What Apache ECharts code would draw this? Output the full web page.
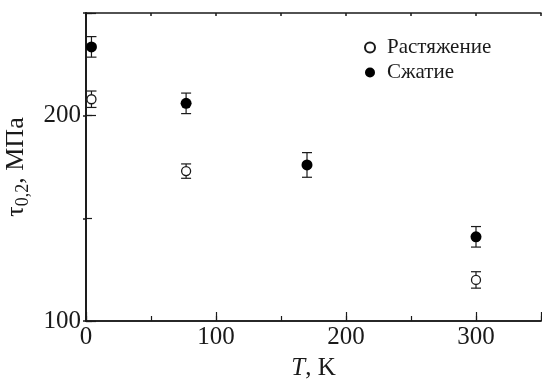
<!DOCTYPE html>
<html>
<head>
<meta charset="utf-8">
<script src="https://cdn.jsdelivr.net/npm/echarts@6/dist/echarts.min.js"></script>
<style>
  html, body { margin: 0; padding: 0; background: #fff; }
  #chart { width: 542px; height: 381px; }
</style>
</head>
<body>
<div id="chart"></div>
<script>
// температуры испытаний, K
const tensionT = [4.2, 77, 300];
const tensionVal = [208, 173, 120];
const tensionErr = [4, 3.5, 4];

const compT = [4.2, 77, 170, 300];
const compVal = [233.5, 206, 176, 141];
const compErr = [5, 5, 6, 5];

const xLabels = [0, 100, 200, 300];
const yLabels = [100, 200];

const ink = '#1a1a1a';
const font = '"Liberation Serif", "Times New Roman", serif';

function errData(xs, ys, es) {
    return xs.map((x, i) => [x, ys[i], es[i]]);
}

function errBar(params, api) {
    const x = api.value(0), y = api.value(1), e = api.value(2);
    const lo = api.coord([x, y - e]);
    const hi = api.coord([x, y + e]);
    const w = 5;
    const st = { stroke: ink, lineWidth: 1.2 };
    return {
        type: 'group',
        children: [
            { type: 'line', shape: { x1: lo[0], y1: lo[1], x2: hi[0], y2: hi[1] }, style: st },
            { type: 'line', shape: { x1: lo[0] - w, y1: lo[1], x2: lo[0] + w, y2: lo[1] }, style: st },
            { type: 'line', shape: { x1: hi[0] - w, y1: hi[1], x2: hi[0] + w, y2: hi[1] }, style: st }
        ]
    };
}

const myChart = echarts.init(document.getElementById('chart'));

const axisLine = { show: true, lineStyle: { color: ink, width: 1.5 } };
const xBase = { type: 'value', min: 0, max: 350, splitLine: { show: false } };
const yBase = { type: 'value', min: 100, max: 250, splitLine: { show: false } };

myChart.setOption({
    animation: false,
    backgroundColor: '#fff',
    grid: { left: 86, right: 1, top: 13, bottom: 60, containLabel: false, outerBoundsMode: 'none' },
    legend: {
        orient: 'vertical',
        left: 359,
        top: 32,
        itemWidth: 24,
        itemHeight: 10,
        itemGap: 4,
        data: ['Растяжение', 'Сжатие'],
        textStyle: { fontFamily: font, fontSize: 21, color: ink }
    },
    xAxis: [
        // малые деления
        Object.assign({}, xBase, {
            position: 'bottom', interval: 50,
            axisLine: axisLine,
            axisTick: { inside: true, length: 5, lineStyle: { color: ink, width: 1.2 } },
            axisLabel: { show: false }
        }),
        // большие деления с подписями
        Object.assign({}, xBase, {
            position: 'bottom', interval: 100,
            axisLine: axisLine,
            axisTick: { inside: true, length: 9, lineStyle: { color: ink, width: 1.2 } },
            axisLabel: {
                margin: 4, fontFamily: font, fontSize: 25, color: ink,
                formatter: v => xLabels.includes(v) ? String(v) : ''
            },
            name: '{i|T}, K',
            nameLocation: 'middle',
            nameGap: 35,
            nameTextStyle: {
                fontFamily: font, fontSize: 25, color: ink,
                rich: { i: { fontFamily: font, fontSize: 25, fontStyle: 'italic', color: ink } }
            }
        }),
        Object.assign({}, xBase, {
            position: 'top', interval: 50,
            axisLine: axisLine,
            axisTick: { inside: true, length: 3, lineStyle: { color: ink, width: 1.5 } },
            axisLabel: { show: false }
        })
    ],
    yAxis: [
        Object.assign({}, yBase, {
            position: 'left', interval: 50,
            axisLine: axisLine,
            axisTick: { inside: true, length: 6, lineStyle: { color: ink, width: 1.2 } },
            axisLabel: { show: false }
        }),
        Object.assign({}, yBase, {
            position: 'left', interval: 100,
            axisLine: axisLine,
            axisTick: { inside: true, length: 10, lineStyle: { color: ink, width: 1.2 } },
            axisLabel: {
                margin: 5, fontFamily: font, fontSize: 25, color: ink,
                formatter: v => yLabels.includes(v) ? String(v) : ''
            },
            name: 'τ{s|0,2}, МПа',
            nameLocation: 'middle',
            nameGap: 47,
            nameTextStyle: {
                fontFamily: font, fontSize: 26, color: ink,
                rich: { s: { fontFamily: font, fontSize: 18, color: ink, verticalAlign: 'bottom', padding: [14, 0, 0, 0] } }
            }
        }),
        Object.assign({}, yBase, {
            position: 'right', interval: 50,
            axisLine: axisLine,
            axisTick: { inside: true, length: 3, lineStyle: { color: ink, width: 1.5 } },
            axisLabel: { show: false }
        })
    ],
    series: [
        {
            type: 'custom', name: 'errT', renderItem: errBar, z: 2,
            data: errData(tensionT, tensionVal, tensionErr)
        },
        {
            type: 'custom', name: 'errC', renderItem: errBar, z: 2,
            data: errData(compT, compVal, compErr)
        },
        {
            name: 'Растяжение', type: 'scatter', symbol: 'circle', symbolSize: 9, z: 5,
            itemStyle: { color: '#fff', borderColor: ink, borderWidth: 1.3, opacity: 1 },
            data: tensionT.map((t, i) => [t, tensionVal[i]])
        },
        {
            name: 'Сжатие', type: 'scatter', symbol: 'circle', symbolSize: 11, z: 5,
            itemStyle: { color: '#000', opacity: 1 },
            data: compT.map((t, i) => [t, compVal[i]])
        }
    ]
});
</script>
</body>
</html>
